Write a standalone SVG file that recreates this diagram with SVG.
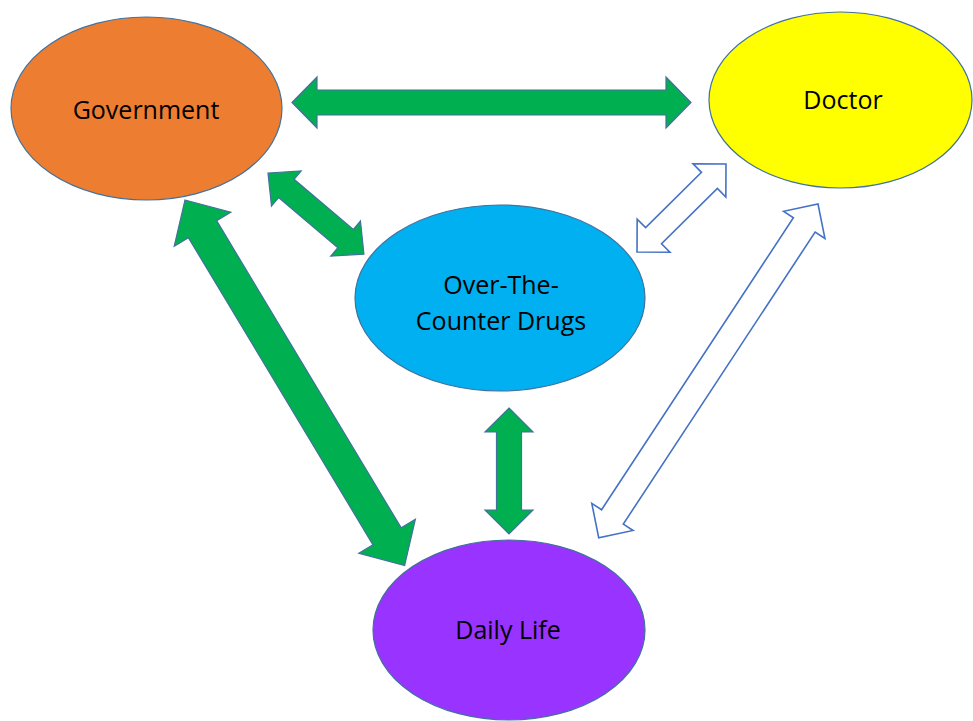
<svg xmlns="http://www.w3.org/2000/svg" width="973" height="721" viewBox="0 0 973 721">
<style>
.node{stroke:#41719C;stroke-width:1.2}
.lbl{font-family:"Open Sans","DejaVu Sans",sans-serif;font-size:25px;fill:#000;text-anchor:middle}
.solid{fill:#00B050;stroke:#41719C;stroke-width:1.2;stroke-linejoin:miter}
.hollow{fill:#FFFFFF;stroke:#4472C4;stroke-width:1.6;stroke-linejoin:miter}
</style>
<rect width="973" height="721" fill="#FFFFFF"/>
<g id="connectors">
<!-- Government <-> Doctor -->
<path class="solid" transform="translate(292,102.5)" d="M0,0 L25,-25.5 L25,-12.5 L374,-12.5 L374,-25.5 L399,0 L374,25.5 L374,12.5 L25,12.5 L25,25.5 Z"/>
<!-- Government <-> OTC -->
<path class="solid" transform="translate(268,173) rotate(40.2)" d="M0,0 L24,-23 L24,-12 L101.6,-12 L101.6,-23 L125.6,0 L101.6,23 L101.6,12 L24,12 L24,23 Z"/>
<!-- Government <-> Daily Life -->
<path class="solid" transform="translate(185,200) rotate(59)" d="M0,0 L34,-33 L34,-16.5 L392.4,-16.5 L392.4,-33 L426.4,0 L392.4,33 L392.4,16.5 L34,16.5 L34,33 Z"/>
<!-- OTC <-> Daily Life -->
<path class="solid" transform="translate(509,408) rotate(90)" d="M0,0 L24,-24 L24,-12.5 L102,-12.5 L102,-24 L126,0 L102,24 L102,12.5 L24,12.5 L24,24 Z"/>
<!-- Doctor <-> OTC -->
<path class="hollow" transform="translate(726,164) rotate(135.3)" d="M0,0 L23.3,-23.3 L23.3,-11.3 L101.9,-11.3 L101.9,-23.3 L125.2,0 L101.9,23.3 L101.9,11.3 L23.3,11.3 L23.3,23.3 Z"/>
<!-- Doctor <-> Daily Life -->
<path class="hollow" transform="translate(818,204) rotate(123.3)" d="M0,0 L25,-24.7 L25,-13 L374.4,-13 L374.4,-24.7 L399.4,0 L374.4,24.7 L374.4,13 L25,13 L25,24.7 Z"/>
</g>
<g id="government">
<ellipse class="node" cx="146.5" cy="108.5" rx="135.5" ry="91.5" fill="#ED7D31"/>
<text class="lbl" x="146" y="119">Government</text>
</g>
<g id="doctor">
<ellipse class="node" cx="840.5" cy="100" rx="131.5" ry="88" fill="#FFFF00"/>
<text class="lbl" x="843" y="109">Doctor</text>
</g>
<g id="otc">
<ellipse class="node" cx="500" cy="298" rx="145" ry="93" fill="#00B0F0"/>
<text class="lbl" x="501" y="294">Over-The-</text>
<text class="lbl" x="501" y="330">Counter Drugs</text>
</g>
<g id="daily-life">
<ellipse class="node" cx="509" cy="630" rx="136" ry="90" fill="#9933FF"/>
<text class="lbl" x="508" y="639">Daily Life</text>
</g>
</svg>
